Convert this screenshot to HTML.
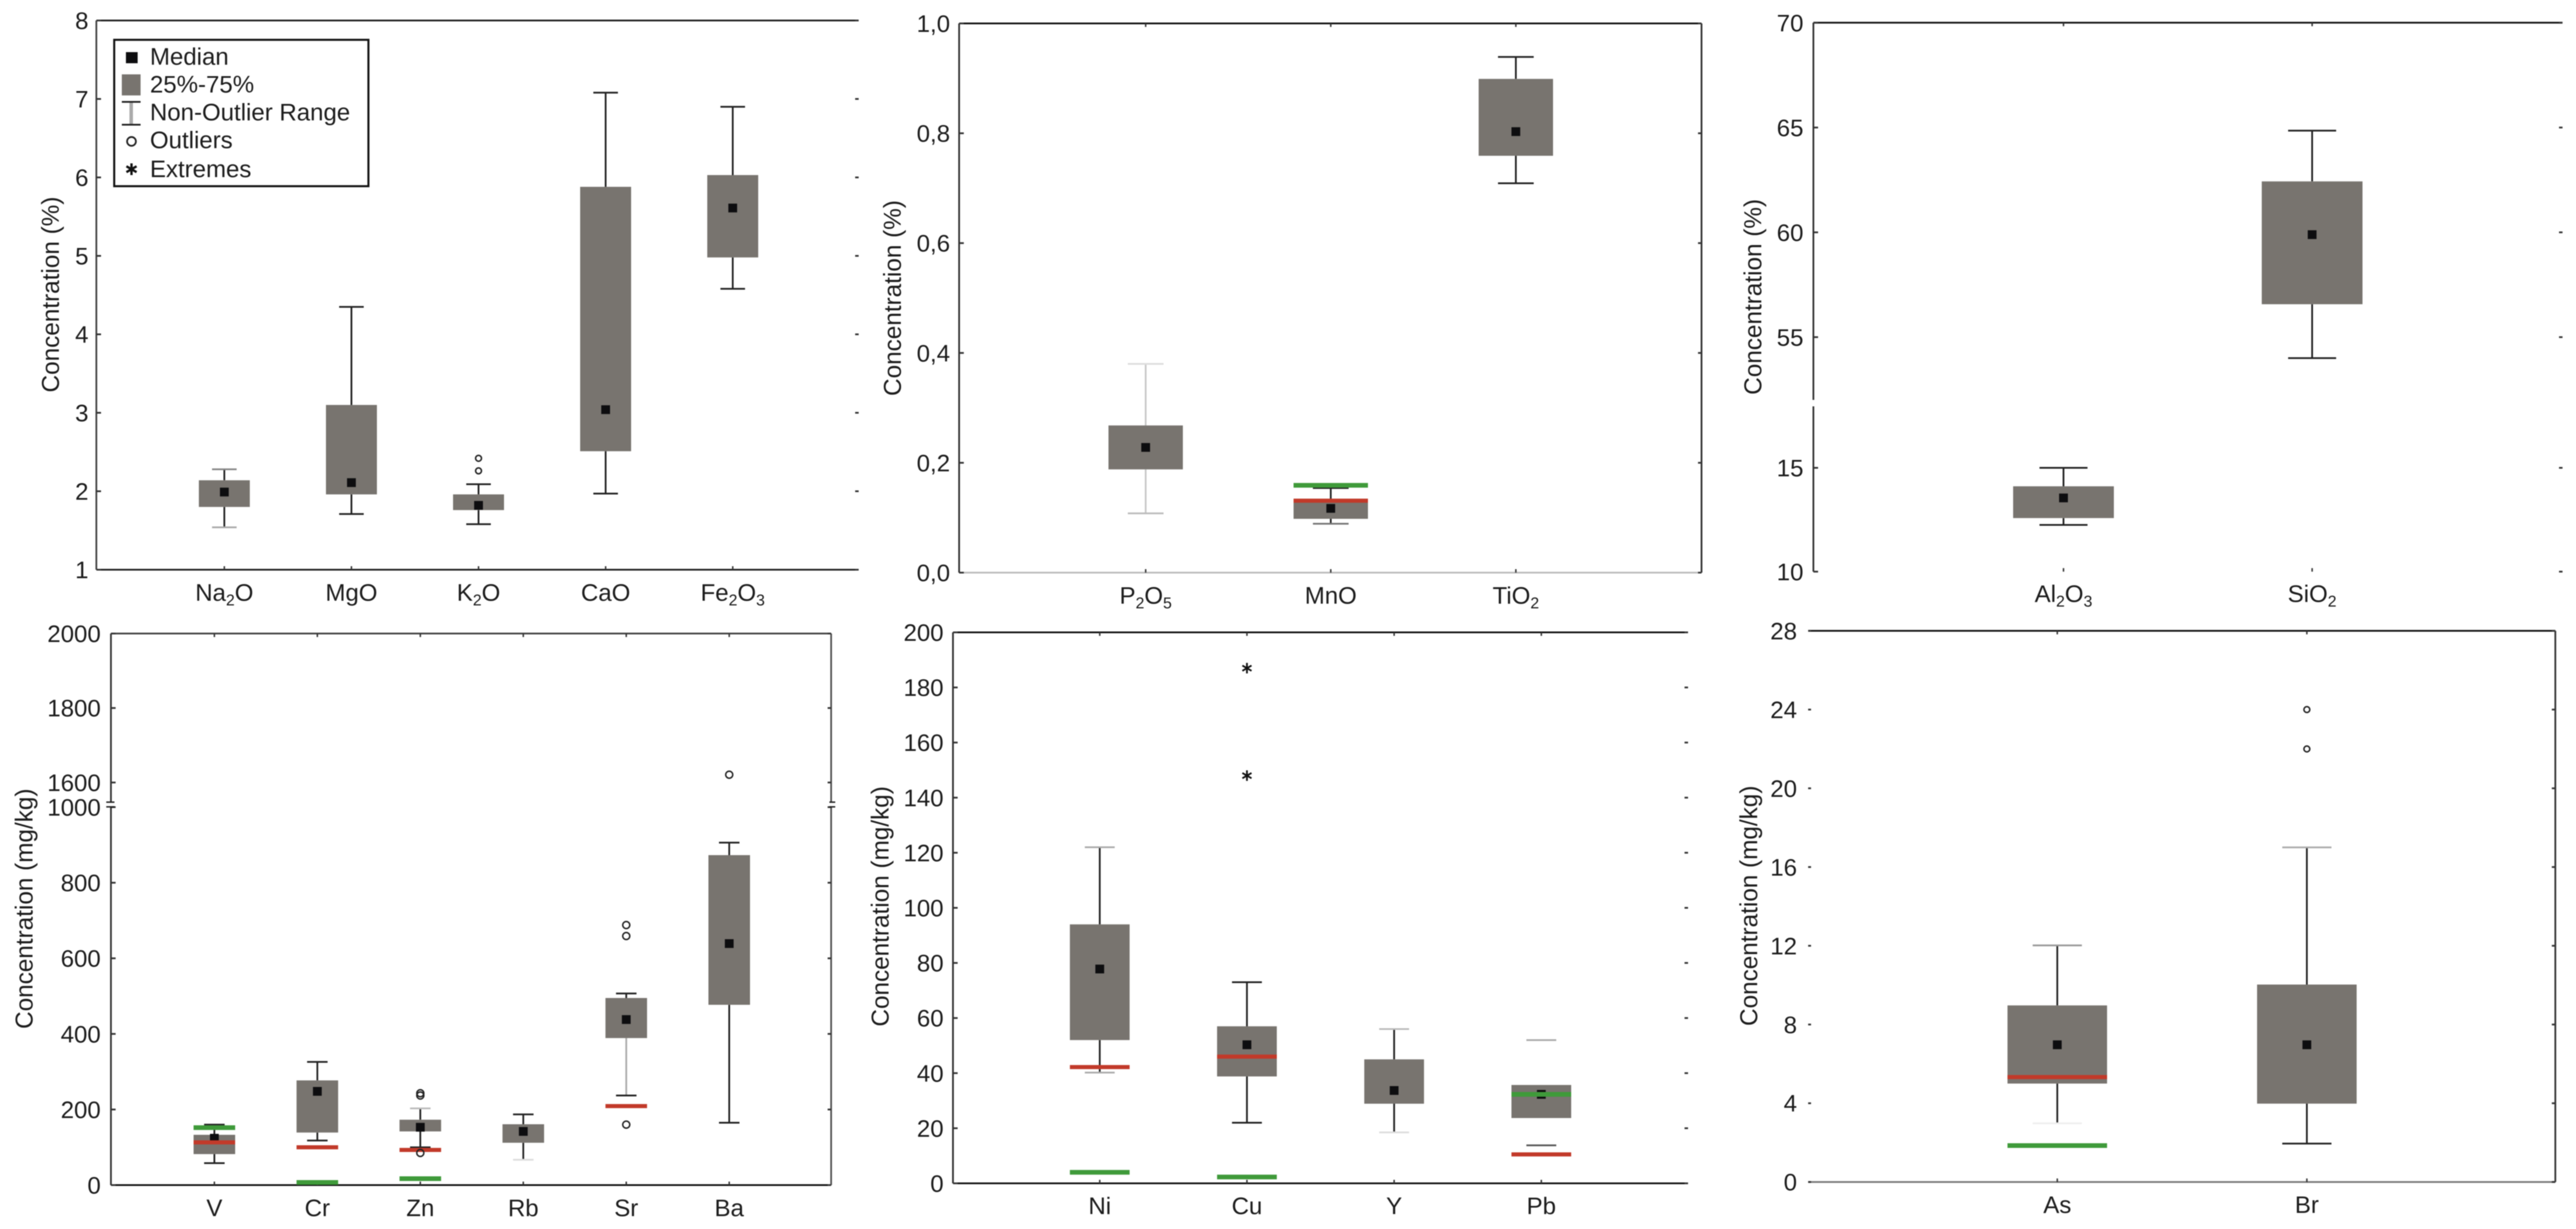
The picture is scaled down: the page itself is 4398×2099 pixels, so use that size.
<!DOCTYPE html>
<html lang="en">
<head>
<meta charset="utf-8">
<title>Concentration box plots</title>
<style>
html,body{margin:0;padding:0;background:#fff;width:4398px;height:2099px;overflow:hidden}
svg{display:block;filter:blur(0.7px)}
text{font-family:"Liberation Sans",Arial,sans-serif;fill:#1c1c1c}
</style>
</head>
<body>
<svg id="chart" xmlns="http://www.w3.org/2000/svg" width="4398" height="2099" viewBox="0 0 4398 2099">
  <rect x="0" y="0" width="4398" height="2099" fill="#ffffff"/>
</svg>
<script>
/* ---------- Panel A: major oxides (%) ---------- */
const majorCategories = ['Na2O','MgO','K2O','CaO','Fe2O3'];
const majorQ1 = [1.80,1.96,1.76,2.51,4.98];
const majorQ3 = [2.14,3.10,1.96,5.88,6.03];
const majorMedian = [1.99,2.11,1.82,3.04,5.61];
const majorLow = [1.54,1.71,1.58,1.97,4.58];
const majorHigh = [2.28,4.35,2.09,7.08,6.90];
const majorOutliers = [[],[],[2.42,2.26],[],[]];
const majorExtremes = [[],[],[],[],[]];
const majorRed = [null,null,null,null,null];
const majorGreen = [null,null,null,null,null];
const majorTicks = [1,2,3,4,5,6,7,8];
const majorTickLabels = ['1','2','3','4','5','6','7','8'];

/* ---------- Panel B: minor oxides (%) ---------- */
const minorCategories = ['P2O5','MnO','TiO2'];
const minorQ1 = [0.188,0.098,0.759];
const minorQ3 = [0.268,0.128,0.899];
const minorMedian = [0.228,0.117,0.803];
const minorLow = [0.108,0.089,0.709];
const minorHigh = [0.380,0.154,0.939];
const minorOutliers = [[],[],[]];
const minorExtremes = [[],[],[]];
const minorRed = [null,0.131,null];
const minorGreen = [null,0.159,null];
const minorTicks = [0,0.2,0.4,0.6,0.8,1];
const minorTickLabels = ['0,0','0,2','0,4','0,6','0,8','1,0'];

/* ---------- Panel C: Al2O3 and SiO2 (%) ---------- */
const bulkCategories = ['Al2O3','SiO2'];
const bulkQ1 = [12.58,56.57];
const bulkQ3 = [14.11,62.43];
const bulkMedian = [13.55,59.89];
const bulkLow = [12.25,54.0];
const bulkHigh = [15.0,64.85];
const bulkOutliers = [[],[]];
const bulkExtremes = [[],[]];
const bulkRed = [null,null];
const bulkGreen = [null,null];
const bulkTicks = [10,15,55,60,65,70];
const bulkTickLabels = ['10','15','55','60','65','70'];

/* ---------- Panel D: V to Ba (mg/kg) ---------- */
const traceCategories = ['V','Cr','Zn','Rb','Sr','Ba'];
const traceQ1 = [82,139,142,112,389,477];
const traceQ3 = [133,277,173,161,495,873];
const traceMedian = [124,248,153,142,438,639];
const traceLow = [58,118,100,67,237,165];
const traceHigh = [160,326,203,187,507,906];
const traceOutliers = [[],[],[243,237,85],[],[688,659,160],[1621]];
const traceExtremes = [[],[],[],[],[],[]];
const traceRed = [113,100,93,null,209,null];
const traceGreen = [152,7,17,null,null,null];
const traceTicks = [0,200,400,600,800,1000,1600,1800,2000];
const traceTickLabels = ['0','200','400','600','800','1000','1600','1800','2000'];

/* ---------- Panel E: Ni to Pb (mg/kg) ---------- */
const metalCategories = ['Ni','Cu','Y','Pb'];
const metalQ1 = [52,38.8,28.9,23.7];
const metalQ3 = [94,57,45,35.7];
const metalMedian = [77.8,50.3,33.7,32.3];
const metalLow = [40.2,22,18.5,13.8];
const metalHigh = [122,73,56,52];
const metalOutliers = [[],[],[],[]];
const metalExtremes = [[],[187,148],[],[]];
const metalRed = [42.2,46,null,10.5];
const metalGreen = [4,2.3,null,32.3];
const metalTicks = [0,20,40,60,80,100,120,140,160,180,200];
const metalTickLabels = ['0','20','40','60','80','100','120','140','160','180','200'];

/* ---------- Panel F: As and Br (mg/kg) ---------- */
const halogenCategories = ['As','Br'];
const halogenQ1 = [5.0,3.98];
const halogenQ3 = [8.97,10.03];
const halogenMedian = [6.97,6.97];
const halogenLow = [2.98,1.95];
const halogenHigh = [12.02,17];
const halogenOutliers = [[],[24,22]];
const halogenExtremes = [[],[]];
const halogenRed = [5.33,null];
const halogenGreen = [1.85,null];
const halogenTicks = [0,4,8,12,16,20,24,28];
const halogenTickLabels = ['0','4','8','12','16','20','24','28'];

/* ---------- Per-category line tones ---------- */
const stemHighTone = {P2O5:'#c8c8c8',Pb:'none'};
const stemLowTone = {P2O5:'#c8c8c8',Sr:'#aaaaaa',Pb:'none'};
const capHighTone = {P2O5:'#dddddd',Ni:'#aaaaaa',Y:'#bbbbbb',Pb:'#aaaaaa',As:'#999999',Br:'#aaaaaa',Zn:'#bbbbbb',Na2O:'#888888'};
const capLowTone = {P2O5:'#bbbbbb',MnO:'#777777',Ni:'#aaaaaa',Y:'#dddddd',Pb:'#555555',As:'#eeeeee',Rb:'#dddddd',Na2O:'#aaaaaa'};

const NS = 'http://www.w3.org/2000/svg';
const root = document.getElementById('chart');

function shape(parent, tag, props) {
  const el = document.createElementNS(NS, tag);
  for (const k in props) el.setAttribute(k, props[k]);
  parent.appendChild(el);
  return el;
}
function slug(s) { return s.toLowerCase().replace(/[^a-z0-9]+/g, '-'); }

function chemLabel(textEl, label) {
  const parts = label.match(/[0-9]+|[^0-9]+/g);
  let lowered = false;
  parts.forEach(function (part) {
    const span = document.createElementNS(NS, 'tspan');
    span.textContent = part;
    if (/^[0-9]/.test(part)) {
      span.setAttribute('font-size', '27');
      span.setAttribute('dy', '8');
      lowered = true;
    } else if (lowered) {
      span.setAttribute('dy', '-8');
      lowered = false;
    }
    textEl.appendChild(span);
  });
}

function makeScale(segments) {
  return function (v) {
    for (const s of segments) {
      if (v >= s.from && v <= s.to) {
        return s.bottom + (v - s.from) / (s.to - s.from) * (s.top - s.bottom);
      }
    }
    return segments[0].bottom;
  };
}

const panels = [
  {id:'major',title:'Concentration (%)',cats:majorCategories,q1:majorQ1,q3:majorQ3,med:majorMedian,lo:majorLow,hi:majorHigh,out:majorOutliers,ext:majorExtremes,red:majorRed,green:majorGreen,ticks:majorTicks,tickLabels:majorTickLabels,
   left:164.5,right:1466,top:35,bottom:973,x0:383,dx:217,boxW:87,capW:42,outR:5,
   segments:[{from:1,to:8,bottom:973,top:35}],
   leftLine:[[35,973]],leftColor:'#444',rightLine:null,rightColor:'#333',topColor:'#222',bottomColor:'#222',topTicks:false,
   labelX:151,titleX:100.5,titleY:503,catY:1026},
  {id:'minor',title:'Concentration (%)',cats:minorCategories,q1:minorQ1,q3:minorQ3,med:minorMedian,lo:minorLow,hi:minorHigh,out:minorOutliers,ext:minorExtremes,red:minorRed,green:minorGreen,ticks:minorTicks,tickLabels:minorTickLabels,
   left:1637.5,right:2905,top:40,bottom:978,x0:1956,dx:316,boxW:127,capW:61,outR:6,
   segments:[{from:0,to:1,bottom:978,top:40}],
   leftLine:[[40,978]],leftColor:'#333',rightLine:[[40,978]],rightColor:'#333',topColor:'#111',bottomColor:'#bbb',topTicks:true,
   labelX:1622,titleX:1538,titleY:509,catY:1031},
  {id:'bulk',title:'Concentration (%)',cats:bulkCategories,q1:bulkQ1,q3:bulkQ3,med:bulkMedian,lo:bulkLow,hi:bulkHigh,out:bulkOutliers,ext:bulkExtremes,red:bulkRed,green:bulkGreen,ticks:bulkTicks,tickLabels:bulkTickLabels,
   left:3096,right:4375,top:38.8,bottom:976.3,x0:3523,dx:424.5,boxW:172,capW:82,outR:6,
   segments:[{from:10,to:18,bottom:976.3,top:692.6},{from:52,to:70,bottom:683.2,top:38.8}],
   leftLine:[[38.8,683],[694,976.3]],leftColor:'#333',rightLine:null,rightColor:'#333',topColor:'#111',bottomColor:null,topTicks:true,
   labelX:3079,titleX:3007,titleY:507,catY:1028},
  {id:'trace',title:'Concentration (mg/kg)',cats:traceCategories,q1:traceQ1,q3:traceQ3,med:traceMedian,lo:traceLow,hi:traceHigh,out:traceOutliers,ext:traceExtremes,red:traceRed,green:traceGreen,ticks:traceTicks,tickLabels:traceTickLabels,
   left:189.4,right:1419,top:1082,bottom:2024,x0:366,dx:175.8,boxW:71,capW:35,outR:6,
   segments:[{from:0,to:1000,bottom:2024,top:1378.5},{from:1548,to:2000,bottom:1369.5,top:1082}],
   leftLine:[[1082,1370],[1378,2024]],leftColor:'#333',rightLine:[[1082,1370],[1378,2024]],rightColor:'#555',topColor:'#444',bottomColor:'#111',topTicks:true,breakMarks:[1370,1378],
   labelX:172,titleX:55.5,titleY:1552,catY:2077},
  {id:'metal',title:'Concentration (mg/kg)',cats:metalCategories,q1:metalQ1,q3:metalQ3,med:metalMedian,lo:metalLow,hi:metalHigh,out:metalOutliers,ext:metalExtremes,red:metalRed,green:metalGreen,ticks:metalTicks,tickLabels:metalTickLabels,
   left:1627,right:2882,top:1080,bottom:2021,x0:1877.6,dx:251.3,boxW:102,capW:51,outR:6,
   segments:[{from:0,to:200,bottom:2021,top:1080}],
   leftLine:[[1080,2021]],leftColor:'#333',rightLine:null,rightColor:'#333',topColor:'#111',bottomColor:'#111',topTicks:true,
   labelX:1611,titleX:1517,titleY:1548,catY:2073.5},
  {id:'halogen',title:'Concentration (mg/kg)',cats:halogenCategories,q1:halogenQ1,q3:halogenQ3,med:halogenMedian,lo:halogenLow,hi:halogenHigh,out:halogenOutliers,ext:halogenExtremes,red:halogenRed,green:halogenGreen,ticks:halogenTicks,tickLabels:halogenTickLabels,
   left:3087,right:4362.7,top:1077.4,bottom:2018.7,x0:3512.4,dx:426.1,boxW:170,capW:84,outR:5,
   segments:[{from:0,to:28,bottom:2018.7,top:1077.4}],
   leftLine:null,leftColor:'#333',rightLine:[[1077.4,2018.7]],rightColor:'#333',topColor:'#111',bottomColor:'#777',topTicks:true,
   labelX:3068,titleX:3000,titleY:1547,catY:2071.5}
];

function drawAsterisk(parent, cx, cy, size, width) {
  const d = size / 2;
  const dx = d * 0.866, dy = d * 0.5;
  const star = shape(parent, 'path', {
    d: 'M' + cx + ' ' + (cy - d) + 'V' + (cy + d) +
       'M' + (cx - dx) + ' ' + (cy - dy) + 'L' + (cx + dx) + ' ' + (cy + dy) +
       'M' + (cx - dx) + ' ' + (cy + dy) + 'L' + (cx + dx) + ' ' + (cy - dy),
    stroke: '#111', 'stroke-width': width, fill: 'none'
  });
  return star;
}

function drawAxes(p, g, y, x) {
  p.leftLine && p.leftLine.forEach(function (seg) {
    const line = shape(g, 'line', {x1:p.left,x2:p.left,y1:seg[0],y2:seg[1],stroke:p.leftColor,'stroke-width':3});
    
    
  });
  p.rightLine && p.rightLine.forEach(function (seg) {
    const line = shape(g, 'line', {x1:p.right,x2:p.right,y1:seg[0],y2:seg[1],stroke:p.rightColor,'stroke-width':3});
    
    
  });
  const topLine = shape(g, 'line', {x1:p.left,x2:p.right,y1:p.top,y2:p.top,stroke:p.topColor,'stroke-width':3});
  
  
  if (p.bottomColor) {
    const bottomLine = shape(g, 'line', {x1:p.left,x2:p.right,y1:p.bottom,y2:p.bottom,stroke:p.bottomColor,'stroke-width':3});
    
    
  }
  p.ticks.forEach(function (v, i) {
    const py = y(v);
    const leftTick = shape(g, 'line', {x1:p.left,x2:p.left + (p.leftLine ? 8 : 5),y1:py,y2:py,stroke:'#333','stroke-width':3});
    
    
    const rightTick = shape(g, 'line', {x1:p.right - 6,x2:p.right,y1:py,y2:py,stroke:'#333','stroke-width':3});
    
    
    const label = shape(g, 'text', {x:p.labelX,y:py + 14.5,'text-anchor':'end','font-size':41});
    label.textContent = p.tickLabels[i];
    
    
  });
  p.cats.forEach(function (cat, i) {
    const px = x(i);
    const bottomTick = shape(g, 'line', {x1:px,x2:px,y1:p.bottom - 6,y2:p.bottom,stroke:'#333','stroke-width':2.5});
    
    
    if (p.topTicks) {
      const topTick = shape(g, 'line', {x1:px,x2:px,y1:p.top,y2:p.top + 6,stroke:'#333','stroke-width':2.5});
      
      
    }
    const label = shape(g, 'text', {x:px,y:p.catY,'text-anchor':'middle','font-size':41});
    chemLabel(label, cat);
    
    
  });
  if (p.breakMarks) {
    p.breakMarks.forEach(function (py) {
      const leftMark = shape(g, 'line', {x1:p.left - 8,x2:p.left + 6,y1:py,y2:py,stroke:'#222','stroke-width':2.5});
      
      
      const rightMark = shape(g, 'line', {x1:p.right - 3,x2:p.right + 7,y1:py,y2:py,stroke:'#222','stroke-width':2.5});
      
      
    });
  }
  const title = shape(g, 'text', {
    transform:'translate(' + p.titleX + ' ' + p.titleY + ') rotate(-90)',
    'text-anchor':'middle','font-size':41.5
  });
  title.textContent = p.title;
  
  
}

function drawBox(p, g, y, x, i) {
  const cat = p.cats[i];
  const name = slug(cat);
  const px = x(i);
  const box = document.createElementNS(NS, 'g');
  
  
  g.appendChild(box);

  const hiStem = shape(box, 'line', {x1:px,x2:px,y1:y(p.q3[i]),y2:y(p.hi[i]),stroke:stemHighTone[cat] || '#222','stroke-width':3});
  
  
  const loStem = shape(box, 'line', {x1:px,x2:px,y1:y(p.q1[i]),y2:y(p.lo[i]),stroke:stemLowTone[cat] || '#222','stroke-width':3});
  
  
  const hiCap = shape(box, 'line', {x1:px - p.capW / 2,x2:px + p.capW / 2,y1:y(p.hi[i]),y2:y(p.hi[i]),stroke:capHighTone[cat] || '#222','stroke-width':3});
  
  
  const loCap = shape(box, 'line', {x1:px - p.capW / 2,x2:px + p.capW / 2,y1:y(p.lo[i]),y2:y(p.lo[i]),stroke:capLowTone[cat] || '#222','stroke-width':3});
  
  

  const rect = shape(box, 'rect', {x:px - p.boxW / 2,y:y(p.q3[i]),width:p.boxW,height:y(p.q1[i]) - y(p.q3[i]),fill:'#78746f'});
  
  

  const med = shape(box, 'rect', {x:px - 7.5,y:y(p.med[i]) - 7.5,width:15,height:15,fill:'#0d0d0f'});
  
  

  if (p.red[i] !== null) {
    const red = shape(box, 'rect', {x:px - p.boxW / 2,y:y(p.red[i]) - 3.5,width:p.boxW,height:7,fill:'#c23a2a'});
    
    
  }
  if (p.green[i] !== null) {
    const green = shape(box, 'rect', {x:px - p.boxW / 2,y:y(p.green[i]) - 4,width:p.boxW,height:8,fill:'#3f9a3a'});
    
    
  }
  p.out[i].forEach(function (v) {
    const c = shape(box, 'circle', {cx:px,cy:y(v),r:p.outR,fill:'none',stroke:'#222','stroke-width':2.5});
    
    
  });
  p.ext[i].forEach(function (v) {
    const star = drawAsterisk(box, px, y(v), 18, 3);
    
    
  });
}

panels.forEach(function (p) {
  const g = document.createElementNS(NS, 'g');
  
  
  root.appendChild(g);
  const y = makeScale(p.segments);
  const x = function (i) { return p.x0 + i * p.dx; };
  drawAxes(p, g, y, x);
  p.cats.forEach(function (cat, i) { drawBox(p, g, y, x, i); });
});

/* ---------- Legend ---------- */
const legend = document.createElementNS(NS, 'g');


root.appendChild(legend);

const legendFrame = shape(legend, 'rect', {x:195,y:68,width:434,height:250,fill:'#fff',stroke:'#111','stroke-width':3.5});



const medianSwatch = shape(legend, 'rect', {x:215,y:89,width:20,height:19,fill:'#0d0d0f'});


const boxSwatch = shape(legend, 'rect', {x:208,y:127,width:32,height:36,fill:'#78746f'});


const rangeStem = shape(legend, 'line', {x1:224,x2:224,y1:174,y2:213,stroke:'#aaaaaa','stroke-width':6});


const rangeCapTop = shape(legend, 'line', {x1:208,x2:240,y1:174,y2:174,stroke:'#222','stroke-width':3});


const rangeCapBottom = shape(legend, 'line', {x1:208,x2:240,y1:213,y2:213,stroke:'#222','stroke-width':3});


const outlierSwatch = shape(legend, 'circle', {cx:224.5,cy:241.5,r:7.5,fill:'none',stroke:'#222','stroke-width':3});


const extremeSwatch = drawAsterisk(legend, 224.5, 289, 20, 4);



const medianText = shape(legend, 'text', {x:256,y:110.5,'font-size':41});
medianText.textContent = 'Median';


const boxText = shape(legend, 'text', {x:256,y:158,'font-size':41});
boxText.textContent = '25%-75%';


const rangeText = shape(legend, 'text', {x:256,y:205.5,'font-size':41});
rangeText.textContent = 'Non-Outlier Range';


const outlierText = shape(legend, 'text', {x:256,y:253,'font-size':41});
outlierText.textContent = 'Outliers';


const extremeText = shape(legend, 'text', {x:256,y:302.5,'font-size':41});
extremeText.textContent = 'Extremes';


</script>
</body>
</html>
